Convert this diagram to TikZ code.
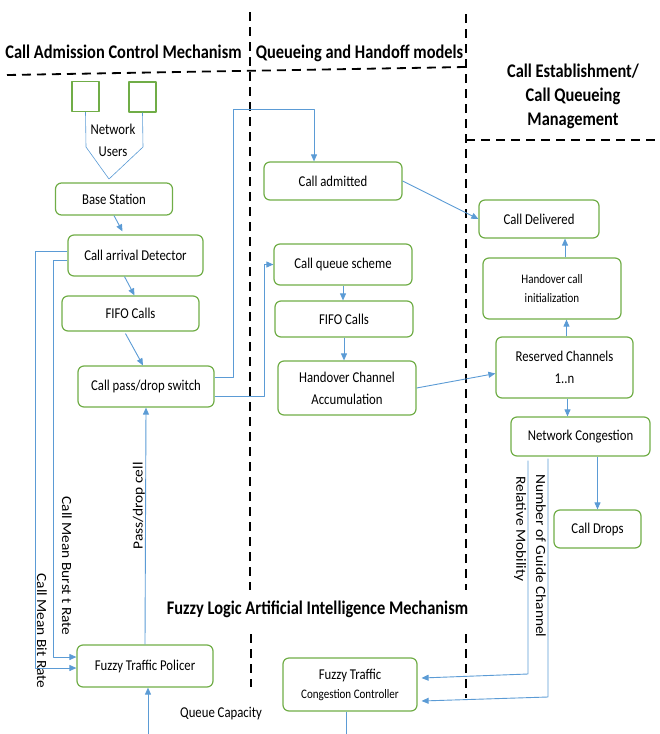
\documentclass[tikz,border=0pt]{standalone}
\usepackage{fontspec}
\setmainfont{Carlito}[FakeStretch=0.85]
\newfontfamily\sidefont{Carlito}[FakeStretch=1.1]
\usetikzlibrary{arrows.meta}
\definecolor{boxgreen}{HTML}{70AD47}
\definecolor{linkblue}{HTML}{5B9BD5}

\begin{document}
\begin{tikzpicture}[x=1pt, y=-1pt, line join=round, >={Triangle[length=7pt,width=6pt]},
	box/.style={draw=boxgreen, line width=1.2pt, rounded corners=6pt, inner sep=0pt, align=center, font=\fontsize{15}{22}\selectfont},
	boxsize/.style 2 args={minimum width=#1pt, minimum height=#2pt},
	link/.style={draw=linkblue, line width=0.9pt, ->},
	title/.style={font=\fontsize{19.3}{24}\selectfont\bfseries, align=center},
	sidelabel/.style={font=\sidefont\fontsize{14}{16}\selectfont},
	dashline/.style={black, line width=1.8pt, dash pattern=on 9pt off 6pt}]
	\useasboundingbox (0,0) rectangle (659,734);
	% section borders
	\draw[dashline] (250,12)--(250,590);
	\draw[dashline] (251,634)--(251,687);
	\draw[dashline] (466,14)--(466,590);
	\draw[dashline] (466,634)--(466,698);
	\draw[dashline] (7,75)--(466,67);
	\draw[dashline] (466,140)--(659,140);
	% titles
	\node[title] (t1) at (123.5,52) {Call Admission Control Mechanism};
	\node[title] (t2) at (359.5,53) {Queueing and Handoff models};
	\node[title] (t3) at (573,96) {Call Establishment/\\Call Queueing\\Management};
	\node[title] (t4) at (317.5,609) {Fuzzy Logic Artificial Intelligence Mechanism};
	% users
	\node[draw=boxgreen, line width=1.2pt, boxsize={27}{30}] (nu1) at (85.5,96.5) {};
	\node[draw=boxgreen, line width=1.2pt, boxsize={27}{30}] (nu2) at (142.5,97) {};
	\node[align=center, font=\fontsize{15}{22}\selectfont] (nulabel) at (113,140) {Network\\Users};
	\coordinate (nujoin) at (109,179);
	\draw[linkblue, line width=0.6pt] (nu1.south)--(86,147)--(nujoin);
	\draw[linkblue, line width=0.6pt] (nu2.south)--(143,147)--(nujoin);
	% boxes
	\node[box, boxsize={117}{32}] (bs) at (114,199) {Base Station};
	\node[box, boxsize={135}{41}] (cad) at (135.5,255.5) {Call arrival Detector};
	\node[box, boxsize={137}{35}] (fifoa) at (130.5,313.5) {FIFO Calls};
	\node[box, boxsize={136}{41}] (cps) at (146,386.5) {Call pass/drop switch};
	\node[box, boxsize={136}{42}] (ftp) at (145,666) {Fuzzy Traffic Policer};
	\node[box, boxsize={138}{38}] (cadm) at (333,181) {Call admitted};
	\node[box, boxsize={138}{41}] (cqs) at (343,264.5) {Call queue scheme};
	\node[box, boxsize={138}{36}] (fifob) at (344,319) {FIFO Calls};
	\node[box, boxsize={138}{54}] (hca) at (347,388) {Handover Channel\\Accumulation};
	\node[box, boxsize={134}{53}] (ftcc) at (350,684.5) {Fuzzy Traffic\\[-3pt]{\fontsize{13}{16}\selectfont Congestion Controller}};
	\node[box, boxsize={120}{38}] (cdel) at (539,219) {Call Delivered};
	\node[box, boxsize={138}{61}, font=\fontsize{13}{19}\selectfont] (hci) at (552,288.5) {Handover call\\initialization};
	\node[box, boxsize={137}{61}] (rc) at (564.5,367.5) {Reserved Channels\\1..n};
	\node[box, boxsize={139}{39}] (nc) at (580.5,436.5) {Network Congestion};
	\node[box, boxsize={87}{38}] (cdr) at (597.5,529) {Call Drops};
	% call admission flow
	\draw[link] (bs.south)--([xshift=-13pt,yshift=3pt]cad.north);
	\draw[link] ([xshift=-11pt]cad.south)--([xshift=4pt]fifoa.north);
	\draw[link] ([xshift=-5pt,yshift=-2pt]fifoa.south)--([xshift=-3pt]cps.north);
	\draw[link] ([yshift=9.5pt]cps.east)--(233,377)--(233,109)-|([xshift=-19pt]cadm.north);
	\draw[link] ([yshift=-9.5pt]cps.east)--(264,396)|-(cqs.west);
	\draw[link] (ftp.north)--(cps.south);
	\draw[link] ([yshift=4pt]cad.west)--(35,251.5)|-([yshift=-2pt]ftp.west);
	\draw[link] ([yshift=-4.5pt]cad.west)--(53,260)|-([yshift=9pt]ftp.west);
	\coordinate (qcap) at (148,734);
	\draw[link] (qcap)--(qcap |- ftp.south);
	% queueing flow
	\draw[link] (cqs.south)--(cqs.south |- fifob.north);
	\draw[link] (fifob.south)--(fifob.south |- hca.north);
	\draw[link] (cadm.east)--(cdel.west);
	\draw[link] (hca.east)--([yshift=-6pt]rc.west);
	\coordinate (ftcco) at (346,734);
	\draw[linkblue, line width=0.9pt] ([xshift=-4pt]ftcc.south)--(ftcco);
	% establishment flow
	\draw[link] ([xshift=2pt]rc.north)--([xshift=2pt]rc.north |- hci.south);
	\draw[link] ([xshift=13pt]hci.north)--([xshift=13pt]hci.north |- cdel.south);
	\draw[link] ([xshift=3pt]rc.south)--([xshift=3pt]rc.south |- nc.north);
	\draw[link] ([xshift=17pt]nc.south)--([xshift=17pt]nc.south |- cdr.north);
	\draw[link] ([xshift=-52.5pt,yshift=-4pt]nc.south)--(528,674)--([xshift=4pt,yshift=6.5pt]ftcc.east);
	\draw[link] ([xshift=-32.5pt,yshift=-2pt]nc.south)--(548,697)--([xshift=4pt,yshift=-16.5pt]ftcc.east);
	% signal labels
	\node[sidelabel, rotate=90] (pdc) at (139,506) {Pass/drop cell};
	\node[sidelabel, rotate=-90] (cmbr) at (67,566) {Call Mean Burst t Rate};
	\node[sidelabel, rotate=-90] (cmbit) at (42,631) {Call Mean Bit Rate};
	\node[sidelabel, rotate=-90] (rmob) at (520,529) {Relative Mobility};
	\node[sidelabel, rotate=-90] (ngc) at (541,556) {Number of Guide Channel};
	\node[font=\fontsize{15}{18}\selectfont] (qclabel) at (221,714) {Queue Capacity};
\end{tikzpicture}
\end{document}
